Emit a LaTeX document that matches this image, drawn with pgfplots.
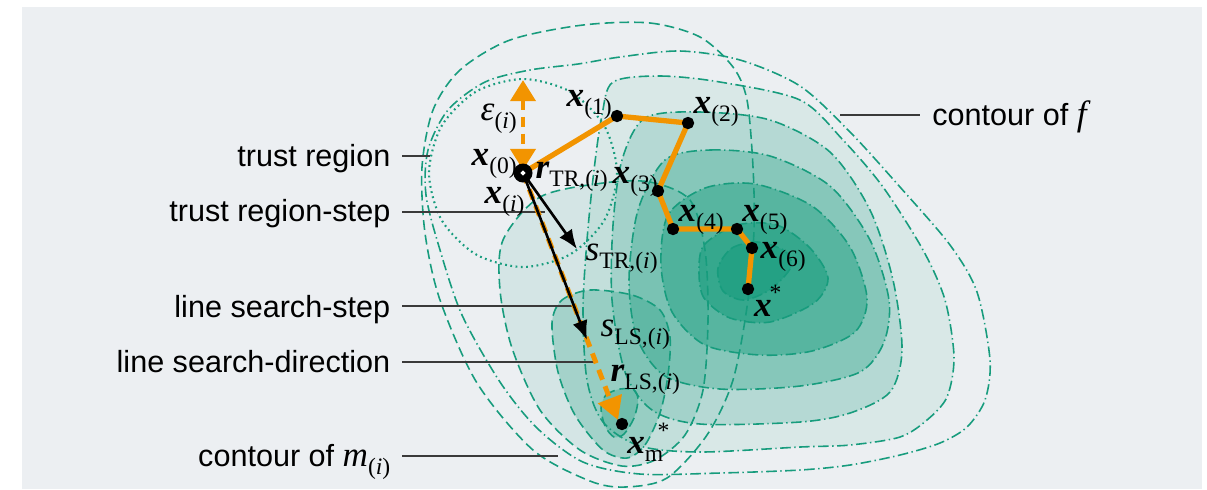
\documentclass[border=0pt]{standalone}
\usepackage{pgfplots}
\pgfplotsset{compat=1.18}
\usetikzlibrary{arrows.meta}
\usepackage{fontspec}
\setmainfont{Liberation Sans}
\newfontfamily\tms{Liberation Serif}
\definecolor{bg}{HTML}{ECEFF2}
\definecolor{fg}{HTML}{179C7D}
\definecolor{og}{HTML}{F29400}
\definecolor{ld}{HTML}{3A3A3A}
\newcommand{\mx}{{\tms\fontsize{10}{11}\selectfont\bfseries\itshape x}}
\newcommand{\subs}[1]{\raisebox{-2.3pt}{\tms\fontsize{6.7}{7}\selectfont #1}}
\newcommand{\lbl}{\fontsize{8.7}{10}\selectfont}
\tikzset{
  fline/.style={fg, line width=0.45pt, dash pattern=on 3pt off 1pt on 0.4pt off 1pt},
  mline/.style={fg, line width=0.45pt, dash pattern=on 2.8pt off 1.4pt},
  lead/.style={ld, line width=0.5pt},
  txt/.style={inner sep=0pt}}
\begin{document}
\begin{tikzpicture}
\begin{axis}[hide axis, scale only axis, width=12.07cm, height=4.89cm,
  xmin=0, xmax=1207, ymin=0, ymax=489, y dir=reverse, clip=false]
% page extent
\addplot[draw=none] coordinates {(0,0)(1207,489)};
% background
\addplot[fill=bg, draw=none] coordinates {(22,7)(1202,7)(1202,489)(22,489)} --cycle;
% f contour fills
\addplot[smooth cycle, draw=none, fill=fg!9!bg] coordinates {(613,82) (660,76) (720,82) (800,100) (843,140) (883,187) (923,250) (945,300) (954,357) (947,397) (927,420) (900,437) (850,445) (800,447) (700,452) (640,446) (603,422) (587,380) (583,310) (587,240) (594,170) (602,115)};
\addplot[smooth cycle, draw=none, fill=fg!26!bg] coordinates {(645,118) (700,112) (770,120) (830,152) (870,210) (893,280) (902,350) (890,392) (850,413) (800,422) (700,424) (652,410) (625,372) (612,300) (613,225) (622,160)};
\addplot[smooth cycle, draw=none, fill=fg!48!bg] coordinates {(665,160) (710,150) (770,156) (830,186) (870,240) (889,300) (884,342) (860,372) (800,386) (720,389) (665,376) (637,338) (629,280) (638,210)};
\addplot[smooth cycle, draw=none, fill=fg!70!bg] coordinates {(668,215) (705,188) (755,184) (812,206) (850,247) (867,298) (855,332) (812,351) (760,355) (705,345) (672,312) (661,265)};
\addplot[smooth cycle, draw=none, fill=fg!86!bg] coordinates {(704,245) (737,225) (777,225) (810,248) (828,278) (814,303) (770,322) (730,318) (704,298) (699,272)};
\addplot[smooth cycle, draw=none, fill=fg!94!bg] coordinates {(718,268) (732,248) (758,242) (785,251) (791,267) (771,289) (744,300) (723,291)};
% m contour fills
\addplot[smooth cycle, draw=none, fill=fg, fill opacity=0.11] coordinates {(603,183) (650,182) (690,200) (705,250) (708,320) (703,390) (685,435) (655,460) (622,466) (580,450) (540,410) (512,348) (500,290) (503,240) (540,197)};
\addplot[smooth cycle, draw=none, fill=fg, fill opacity=0.25] coordinates {(552,323) (562,300) (590,290) (632,295) (660,310) (670,337) (668,375) (660,413) (645,445) (627,458) (603,450) (575,415) (558,372)};
\addplot[smooth cycle, draw=none, fill=fg, fill opacity=0.3] coordinates {(601,408) (606,395) (620,389) (634,390) (638,400) (634,418) (624,434) (614,437) (605,426)};
% f contour lines
\addplot[smooth cycle, fline] coordinates {(620,57) (680,51) (740,60) (800,86) (850,132) (900,187) (950,245) (977,292) (990,360) (985,400) (967,427) (940,443) (900,455) (850,465) (800,470) (720,473) (640,474) (583,462) (537,428) (500,382) (462,315) (440,250) (426,195) (428,150) (448,110) (485,82) (530,70) (578,64)};
\addplot[smooth cycle, fline] coordinates {(613,82) (660,76) (720,82) (800,100) (843,140) (883,187) (923,250) (945,300) (954,357) (947,397) (927,420) (900,437) (850,445) (800,447) (700,452) (640,446) (603,422) (587,380) (583,310) (587,240) (594,170) (602,115)};
\addplot[smooth cycle, fline] coordinates {(645,118) (700,112) (770,120) (830,152) (870,210) (893,280) (902,350) (890,392) (850,413) (800,422) (700,424) (652,410) (625,372) (612,300) (613,225) (622,160)};
\addplot[smooth cycle, fline] coordinates {(665,160) (710,150) (770,156) (830,186) (870,240) (889,300) (884,342) (860,372) (800,386) (720,389) (665,376) (637,338) (629,280) (638,210)};
\addplot[smooth cycle, fline] coordinates {(668,215) (705,188) (755,184) (812,206) (850,247) (867,298) (855,332) (812,351) (760,355) (705,345) (672,312) (661,265)};
\addplot[smooth cycle, fline] coordinates {(704,245) (737,225) (777,225) (810,248) (828,278) (814,303) (770,322) (730,318) (704,298) (699,272)};
\addplot[smooth cycle, fline] coordinates {(718,268) (732,248) (758,242) (785,251) (791,267) (771,289) (744,300) (723,291)};
% m contour lines
\addplot[smooth cycle, mline] coordinates {(583,25) (650,23) (700,37) (733,67) (747,100) (753,167) (754,230) (748,300) (733,380) (707,435) (667,478) (625,487) (590,481) (533,450) (477,383) (440,300) (425,233) (422,167) (433,110) (460,70) (510,40)};
\addplot[smooth cycle, mline] coordinates {(603,183) (650,182) (690,200) (705,250) (708,320) (703,390) (685,435) (655,460) (622,466) (580,450) (540,410) (512,348) (500,290) (503,240) (540,197)};
\addplot[smooth cycle, mline] coordinates {(552,323) (562,300) (590,290) (632,295) (660,310) (670,337) (668,375) (660,413) (645,445) (627,458) (603,450) (575,415) (558,372)};
\addplot[smooth cycle, mline] coordinates {(601,408) (606,395) (620,389) (634,390) (638,400) (634,418) (624,434) (614,437) (605,426)};
% trust region circle
\addplot[smooth cycle, fg, line width=0.6pt, dash pattern=on 0.5pt off 1pt] coordinates {(617,173) (604.4,126) (570,91.6) (523,79) (476,91.6) (441.6,126) (429,173) (441.6,220) (476,254.4) (523,267) (570,254.4) (604.4,220)};
% leader lines
\addplot[lead] coordinates {(402,156)(430,156)};
\addplot[lead] coordinates {(402,212)(545,212)};
\addplot[lead] coordinates {(402,306)(572,306)};
\addplot[lead] coordinates {(402,362)(597,362)};
\addplot[lead] coordinates {(402,456)(558,456)};
\addplot[lead] coordinates {(840,115)(920,115)};
% line search direction (orange dashed)
\addplot[og, line width=1.4pt, dash pattern=on 3pt off 2pt, -{Triangle[length=6.5pt,width=7pt]}] coordinates {(523,173)(618,420)};
% black steps
\addplot[black, line width=0.75pt, -{Latex[length=5.5pt,width=4.4pt]}] coordinates {(523,173)(577,249)};
\addplot[black, line width=0.75pt, -{Latex[length=5.5pt,width=4.4pt]}] coordinates {(523,173)(587,340)};
% iteration path
\addplot[og, line width=1.5pt, line join=round] coordinates {(523,173)(617,116)(688,123)(658,191)(673,229)(737,229)(752,248)(748,289)};
% epsilon arrow
\addplot[og, line width=1.4pt, dash pattern=on 3pt off 1.8pt, {Triangle[length=6pt,width=7pt]}-{Triangle[length=6pt,width=7pt]}] coordinates {(523,80)(523,170)};
% points
\addplot[only marks, mark=*, mark size=1.55pt, black] coordinates {(617,116)(688,123)(658,191)(673,229)(737,229)(752,248)(748,289)(622,424)};
\addplot[only marks, mark=*, mark size=2.5pt, black] coordinates {(523,173)};
\addplot[only marks, mark=*, mark size=0.45pt, white] coordinates {(523,173)};
% left labels
\node[txt, anchor=base east, font=\lbl] at (axis cs:391,166.7) {trust region};
\node[txt, anchor=base east, font=\lbl] at (axis cs:391,221.7) {trust region-step};
\node[txt, anchor=base east, font=\lbl] at (axis cs:391,317.3) {line search-step};
\node[txt, anchor=base east, font=\lbl] at (axis cs:391,372.7) {line search-direction};
\node[txt, anchor=base east, font=\lbl] at (axis cs:391,466.7) {contour of {\tms\fontsize{10}{11}\selectfont\itshape m}\subs{(\textit{i})}};
\node[txt, anchor=base west, font=\lbl] at (axis cs:931.7,125) {contour of {\tms\fontsize{10}{11}\selectfont\itshape f}};
% math labels
\node[txt, anchor=base west] at (axis cs:471,165) {\mx\subs{(0)}};
\node[txt, anchor=base west] at (axis cs:484,203.3) {\mx\subs{(\textit{i})}};
\node[txt, anchor=base west] at (axis cs:566,106.7) {\mx\subs{(1)}};
\node[txt, anchor=base west] at (axis cs:693,113.3) {\mx\subs{(2)}};
\node[txt, anchor=base west] at (axis cs:612,183.3) {\mx\subs{(3)}};
\node[txt, anchor=base west] at (axis cs:678,221.7) {\mx\subs{(4)}};
\node[txt, anchor=base west] at (axis cs:741.7,221.7) {\mx\subs{(5)}};
\node[txt, anchor=base west] at (axis cs:760,258.3) {\mx\subs{(6)}};
\node[txt, anchor=base west] at (axis cs:753.3,316.7) {\mx};
\node[txt, anchor=center] at (axis cs:775.5,293) {\tms\fontsize{6.7}{7}\selectfont *};
\node[txt, anchor=base west] at (axis cs:626.7,453.3) {\mx\subs{m}};
\node[txt, anchor=center] at (axis cs:663.5,431) {\tms\fontsize{6.7}{7}\selectfont *};
\node[txt, anchor=base west] at (axis cs:480,120) {{\tms\fontsize{10}{11}\selectfont\itshape ε}\subs{(\textit{i})}};
\node[txt, anchor=base west] at (axis cs:535,178.3) {{\tms\fontsize{10}{11}\selectfont\bfseries\itshape r}\subs{TR,(\textit{i})}};
\node[txt, anchor=base west] at (axis cs:585,260) {{\tms\fontsize{10}{11}\selectfont\itshape s}\subs{TR,(\textit{i})}};
\node[txt, anchor=base west] at (axis cs:600,336.7) {{\tms\fontsize{10}{11}\selectfont\itshape s}\subs{LS,(\textit{i})}};
\node[txt, anchor=base west] at (axis cs:610,381.7) {{\tms\fontsize{10}{11}\selectfont\bfseries\itshape r}\subs{LS,(\textit{i})}};
\end{axis}
\end{tikzpicture}
\end{document}
